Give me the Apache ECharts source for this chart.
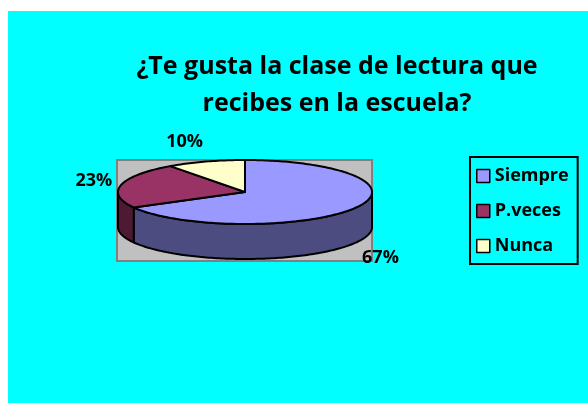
<!DOCTYPE html>
<html>
<head>
<meta charset="utf-8">
<script src="https://cdn.jsdelivr.net/npm/echarts@6/dist/echarts.min.js"></script>
<style>
html,body{margin:0;padding:0;background:#fff;}
#chart{width:588px;height:403px;}
</style>
</head>
<body>
<div id="chart"></div>
<script>
var categories = ['Siempre', 'P.veces', 'Nunca'];
var values = [67, 23, 10];
var labels = ['67%', '23%', '10%'];
var topColors = ['#9999FF', '#993366', '#FFFFCC'];
var sideColors = ['#4C4C80', '#4D1933', '#808066'];

var FONT = '"Open Sans", "Liberation Sans", sans-serif';
var total = values.reduce(function (a, b) { return a + b; }, 0);
var starts = [];
(function () { var acc = 0; for (var i = 0; i < values.length; i++) { starts.push(acc); acc += values[i]; } })();

var CX = 245, CY = 192, RX = 127, RY = 32, DEPTH = 35;

function pt(theta, dy) {
  return [CX + RX * Math.sin(theta), CY - RY * Math.cos(theta) + (dy || 0)];
}
function arcPoints(a0, a1, dy) {
  var pts = [];
  var n = Math.max(2, Math.ceil(Math.abs(a1 - a0) / 0.02));
  for (var k = 0; k <= n; k++) pts.push(pt(a0 + (a1 - a0) * k / n, dy));
  return pts;
}

function renderItem(params, api) {
  var i = params.dataIndex;
  var v = api.value(0);
  var a0 = starts[i] / total * Math.PI * 2;
  var a1 = a0 + v / total * Math.PI * 2;
  var children = [];
  var s0 = Math.max(a0, Math.PI / 2), s1 = Math.min(a1, Math.PI * 1.5);
  if (s1 > s0) {
    var topArc = arcPoints(s0, s1, 0);
    var botArc = arcPoints(s1, s0, DEPTH);
    children.push({
      type: 'polygon', z2: 1,
      shape: { points: topArc.concat(botArc) },
      style: { fill: sideColors[i], stroke: '#000', lineWidth: 2, lineJoin: 'round' }
    });
  }
  var pts = [[CX, CY]].concat(arcPoints(a0, a1, 0));
  children.push({
    type: 'polygon', z2: 10,
    shape: { points: pts },
    style: { fill: topColors[i], stroke: '#000', lineWidth: 2, lineJoin: 'round' }
  });
  var mid = (a0 + a1) / 2;
  var s = Math.sin(mid), c = Math.cos(mid);
  var lx = CX + (RX + 9) * s;
  var ly = CY - (RY + 21) * c + (c < 0 ? DEPTH + 4 : 0);
  children.push({
    type: 'text', z2: 20,
    style: { x: lx, y: ly, text: labels[i], fill: '#000', font: 'bold 18px ' + FONT, align: s < 0 ? 'right' : 'left', verticalAlign: 'middle' }
  });
  return { type: 'group', children: children };
}

var chart = echarts.init(document.getElementById('chart'), null, { renderer: 'canvas' });
chart.setOption({
  backgroundColor: '#ffffff',
  animation: false,
  graphic: [
    { type: 'rect', z: -10, shape: { x: 8, y: 11, width: 580, height: 392 }, style: { fill: '#00FFFF' } },
    { type: 'rect', z: -5, shape: { x: 117, y: 160, width: 255, height: 101 }, style: { fill: '#C0C0C0', stroke: '#808080', lineWidth: 2 } }
  ],
  title: {
    text: '¿Te gusta la clase de lectura que\nrecibes en la escuela?',
    left: 332, top: 43, textAlign: 'center',
    textStyle: { fontFamily: FONT, fontWeight: 'bold', fontSize: 25, lineHeight: 37, color: '#000' }
  },
  legend: {
    orient: 'vertical', left: 470, top: 157,
    data: categories,
    icon: 'rect', itemWidth: 13, itemHeight: 13, itemGap: 15, itemTextGap: 6,
    padding: [9, 9, 8, 6],
    borderColor: '#000', borderWidth: 2,
    itemStyle: { borderColor: '#000', borderWidth: 1.5 },
    textStyle: { fontFamily: FONT, fontWeight: 'bold', fontSize: 18, lineHeight: 20, color: '#000' }
  },
  series: [
    {
      type: 'pie', radius: [0, 0], center: [CX, CY], silent: true,
      label: { show: false }, labelLine: { show: false },
      data: categories.map(function (c, i) { return { name: c, value: values[i], itemStyle: { color: topColors[i] } }; })
    },
    {
      type: 'custom', coordinateSystem: 'none', silent: true,
      renderItem: renderItem,
      data: values.map(function (v) { return [v]; })
    }
  ]
});
</script>
</body>
</html>
